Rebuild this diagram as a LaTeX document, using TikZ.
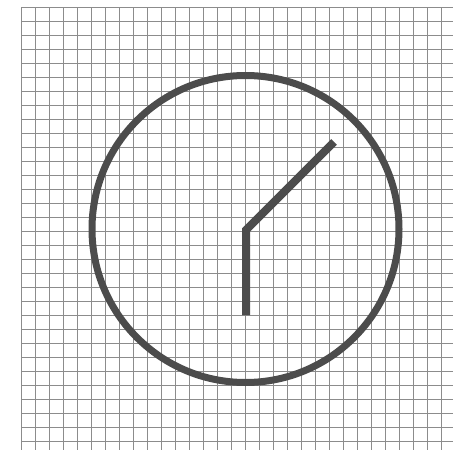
\documentclass[tikz,border=0pt]{standalone}
\begin{document}
\begin{tikzpicture}[x=1pt,y=-1pt,
  gridline/.style={draw=gray!90, line width=1pt},
  clockline/.style={draw=black!70, line width=7pt},
  handline/.style={draw=black!70, line width=8pt, line cap=butt, line join=miter}]
\useasboundingbox (0,0) rectangle (453,450);
\foreach \i in {0,...,30} {
  \draw[gridline] ({21+14*\i},7) -- ({21+14*\i},450);
}
\foreach \j in {0,...,31} {
  \draw[gridline] (21,{7+14*\j}) -- (453,{7+14*\j});
}
\coordinate (o) at (245.5,229);
\coordinate (c) at (246,230);
\coordinate (h6) at (246,315);
\coordinate (h2) at (334,142);
\draw[clockline] (o) circle (153.5);
\draw[handline] (h6) -- (c) -- (h2);
\end{tikzpicture}
\end{document}
